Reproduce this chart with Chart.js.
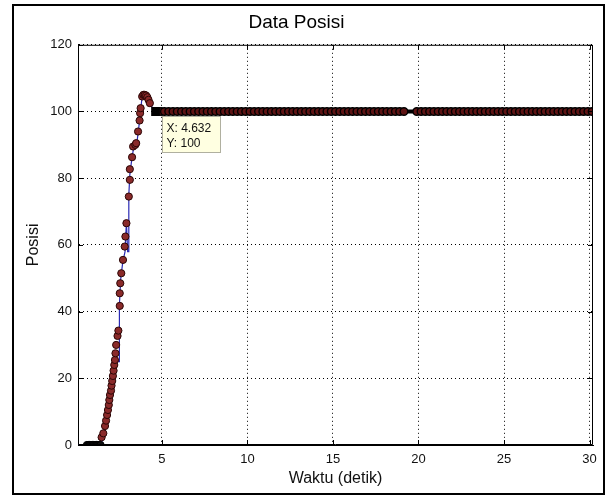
<!DOCTYPE html>
<html lang="id">
<head>
    <meta charset="UTF-8">
    <script src="https://cdn.jsdelivr.net/npm/chart.js"></script>
    <title>Data Posisi</title>
    <style>
        body { margin: 0; background: #fff; }
        #wadah { width: 615px; height: 500px; }
    </style>
</head>
<body>
    <div id="wadah"><canvas id="grafikPosisi" width="615" height="500"></canvas></div>

    <script>
        // tick sumbu
        const xTicks = [5, 10, 15, 20, 25, 30];
        const yTicks = [0, 20, 40, 60, 80, 100, 120];

        // titik awal (diam di 0)
        const diamWaktu = [0.62, 0.70, 0.78, 0.86, 0.94, 1.02, 1.10, 1.18, 1.26, 1.34, 1.42];
        const diamPosisi = [0, 0, 0, 0, 0, 0, 0, 0, 0, 0, 0];

        // titik saat naik
        const naikWaktu = [1.48, 1.58, 1.68, 1.74, 1.80, 1.85, 1.90, 1.93, 1.97, 2.03, 2.06, 2.10, 2.14, 2.18, 2.22,
            2.26, 2.29, 2.33, 2.41, 2.46, 2.54, 2.54, 2.57, 2.63, 2.73, 2.83, 2.87, 2.93, 3.07, 3.13,
            3.13, 3.26, 3.32, 3.45, 3.50, 3.61, 3.70, 3.73, 3.76, 3.85, 3.92, 4.00, 4.08, 4.15, 4.22, 4.30];
        const naikPosisi = [2.3, 3.5, 5.7, 7.3, 9.0, 10.5, 12.0, 13.5, 15.0, 16.3, 17.8, 19.2, 20.7, 22.3, 24.0,
            25.5, 27.5, 30.0, 32.7, 34.3, 41.7, 45.5, 48.5, 51.5, 55.5, 59.5, 62.5, 66.5, 74.5, 79.5,
            82.7, 86.3, 89.5, 90.0, 90.5, 94.0, 97.3, 99.5, 101.0, 104.5, 105.0, 105.0, 104.8, 104.3, 103.5, 102.5];

        // titik keadaan tunak
        const tunakWaktu = [
            4.95, 5.15, 5.40, 5.65, 5.90, 6.15, 6.40, 6.65, 6.90, 7.15,
            7.40, 7.65, 7.90, 8.15, 8.40, 8.65, 8.90, 9.15, 9.40, 9.65,
            9.90, 10.15, 10.40, 10.65, 10.90, 11.15, 11.40, 11.65, 11.90, 12.15,
            12.40, 12.65, 12.90, 13.15, 13.40, 13.65, 13.90, 14.15, 14.40, 14.65,
            14.90, 15.15, 15.40, 15.65, 15.90, 16.15, 16.40, 16.65, 16.90, 17.15,
            17.40, 17.65, 17.90, 18.15, 18.40, 18.65, 18.90, 19.15, 19.90, 20.15,
            20.40, 20.65, 20.90, 21.15, 21.40, 21.65, 21.90, 22.15, 22.40, 22.65,
            22.90, 23.15, 23.40, 23.65, 23.90, 24.15, 24.40, 24.65, 24.90, 25.15,
            25.40, 25.65, 25.90, 26.15, 26.40, 26.65, 26.90, 27.15, 27.40, 27.65,
            27.90, 28.15, 28.40, 28.65, 28.90, 29.15, 29.40, 29.65, 29.90, 30.15];
        const tunakPosisi = [
            100, 100, 100, 100, 100, 100, 100, 100, 100, 100,
            100, 100, 100, 100, 100, 100, 100, 100, 100, 100,
            100, 100, 100, 100, 100, 100, 100, 100, 100, 100,
            100, 100, 100, 100, 100, 100, 100, 100, 100, 100,
            100, 100, 100, 100, 100, 100, 100, 100, 100, 100,
            100, 100, 100, 100, 100, 100, 100, 100, 100, 100,
            100, 100, 100, 100, 100, 100, 100, 100, 100, 100,
            100, 100, 100, 100, 100, 100, 100, 100, 100, 100,
            100, 100, 100, 100, 100, 100, 100, 100, 100, 100,
            100, 100, 100, 100, 100, 100, 100, 100, 100, 100];

        // garis biru
        const garisWaktu = [0.10, 1.45, 1.50, 1.75, 2.00, 2.20, 2.28, 2.50, 2.52, 2.60, 2.72, 2.85, 2.93, 3.00,
            3.05, 3.07, 3.13, 3.25, 3.35, 3.55, 3.65, 3.75, 3.85, 4.00, 4.20, 4.40, 4.632, 30.20];
        const garisPosisi = [0, 0, 2.5, 8, 16, 22.5, 25, 25, 42, 50, 55, 58, 67, 58,
            58, 75, 81, 86, 89, 91, 95, 100, 104.5, 105, 104, 101.5, 100, 100];

        // garis hitam tebal di 100
        const hitamWaktu = [4.95, 30.20];
        const hitamPosisi = [100, 100];

        // data cursor
        const kursorX = 4.632;
        const kursorY = 100;

        function pasang(xs, ys) {
            return xs.map((x, i) => ({ x: x, y: ys[i] }));
        }

        // kotak luar, bingkai, tick ke dalam, dan data tip
        const hiasan = {
            id: 'hiasan',
            afterDatasetsDraw(chart) {
                const { ctx, chartArea: a, scales } = chart;
                ctx.save();
                ctx.strokeStyle = '#000';
                ctx.lineWidth = 1;
                ctx.beginPath();
                ctx.rect(a.left + 0.5, a.top + 0.5, a.right - a.left - 1, a.bottom - a.top - 1);
                xTicks.forEach(v => {
                    const px = Math.round(scales.x.getPixelForValue(v)) + 0.5;
                    ctx.moveTo(px, a.bottom); ctx.lineTo(px, a.bottom - 5);
                    ctx.moveTo(px, a.top); ctx.lineTo(px, a.top + 5);
                });
                yTicks.forEach(v => {
                    const py = Math.round(scales.y.getPixelForValue(v)) + 0.5;
                    ctx.moveTo(a.left, py); ctx.lineTo(a.left + 5, py);
                    ctx.moveTo(a.right, py); ctx.lineTo(a.right - 5, py);
                });
                ctx.stroke();

                // data tip
                const px = scales.x.getPixelForValue(kursorX);
                const py = scales.y.getPixelForValue(kursorY);
                const bx = Math.round(px + 6) + 0.5, by = Math.round(py + 5) + 0.5;
                ctx.fillStyle = '#ffffe1';
                ctx.strokeStyle = '#b0b0a0';
                ctx.fillRect(bx, by, 58, 36);
                ctx.strokeRect(bx, by, 58, 36);
                ctx.fillStyle = '#111';
                ctx.font = '12px "Liberation Sans", Arial, sans-serif';
                ctx.textBaseline = 'middle';
                ctx.fillText('X: 4.632', bx + 4, by + 12);
                ctx.fillText('Y: 100', bx + 4, by + 27);

                // kotak luar gambar
                ctx.strokeStyle = '#000';
                ctx.lineWidth = 2;
                ctx.strokeRect(13, 5, 591, 489);
                ctx.restore();
            }
        };

        const ctx = document.getElementById('grafikPosisi').getContext('2d');
        new Chart(ctx, {
            type: 'scatter',
            data: {
                datasets: [
                    {
                        label: 'kursor',
                        data: [{ x: kursorX, y: kursorY }],
                        pointStyle: 'rect',
                        pointRadius: 6.2,
                        backgroundColor: '#000',
                        borderColor: '#000',
                        borderWidth: 0,
                        order: 0
                    },
                    {
                        label: 'naik',
                        data: pasang(naikWaktu, naikPosisi),
                        pointRadius: 3.6,
                        backgroundColor: '#8a2a2a',
                        borderColor: '#2a0505',
                        borderWidth: 1,
                        order: 1
                    },
                    {
                        label: 'tunak',
                        data: pasang(tunakWaktu, tunakPosisi),
                        pointRadius: 3.8,
                        backgroundColor: '#5e1414',
                        borderColor: '#000',
                        borderWidth: 1.4,
                        order: 1
                    },
                    {
                        label: 'diam',
                        data: pasang(diamWaktu, diamPosisi),
                        pointRadius: 3.6,
                        backgroundColor: '#111',
                        borderColor: '#000',
                        borderWidth: 1,
                        order: 1
                    },
                    {
                        label: 'hitam',
                        data: pasang(hitamWaktu, hitamPosisi),
                        showLine: true,
                        pointRadius: 0,
                        borderColor: '#000',
                        borderWidth: 4,
                        order: 2
                    },
                    {
                        label: 'garis',
                        data: pasang(garisWaktu, garisPosisi),
                        showLine: true,
                        pointRadius: 0,
                        borderColor: '#2a2ab4',
                        borderWidth: 1.2,
                        order: 3
                    }
                ]
            },
            options: {
                responsive: false,
                animation: false,
                layout: { padding: { left: 0, right: 22, top: 0, bottom: 0 } },
                plugins: {
                    legend: { display: false },
                    tooltip: { enabled: false },
                    title: {
                        display: true,
                        text: 'Data Posisi',
                        color: '#000',
                        font: { family: '"Liberation Sans", Arial, sans-serif', size: 19, weight: 'normal' },
                        padding: { top: 11, bottom: 11 }
                    }
                },
                scales: {
                    x: {
                        type: 'linear',
                        min: 0.1,
                        max: 30.2,
                        afterBuildTicks: s => { s.ticks = xTicks.map(v => ({ value: v })); },
                        afterFit: s => { s.height = 55; },
                        ticks: {
                            color: '#111',
                            padding: 7,
                            font: { family: '"Liberation Sans", Arial, sans-serif', size: 13 }
                        },
                        grid: { color: '#000', drawTicks: false, lineWidth: 1 },
                        border: { color: '#000', width: 1, dash: [1, 3] },
                        title: {
                            display: true,
                            text: 'Waktu (detik)',
                            color: '#111',
                            font: { family: '"Liberation Sans", Arial, sans-serif', size: 16 },
                            padding: { top: 0, bottom: 12 }
                        }
                    },
                    y: {
                        min: 0,
                        max: 120,
                        afterBuildTicks: s => { s.ticks = yTicks.map(v => ({ value: v })); },
                        afterFit: s => { s.width = 78; },
                        ticks: {
                            color: '#111',
                            padding: 6,
                            font: { family: '"Liberation Sans", Arial, sans-serif', size: 13 }
                        },
                        grid: { color: '#000', drawTicks: false, lineWidth: 1 },
                        border: { color: '#000', width: 1, dash: [1, 3] },
                        title: {
                            display: true,
                            text: 'Posisi',
                            color: '#111',
                            font: { family: '"Liberation Sans", Arial, sans-serif', size: 16 },
                            padding: { top: 24, bottom: 0 }
                        }
                    }
                }
            },
            plugins: [hiasan]
        });
    </script>
</body>
</html>
